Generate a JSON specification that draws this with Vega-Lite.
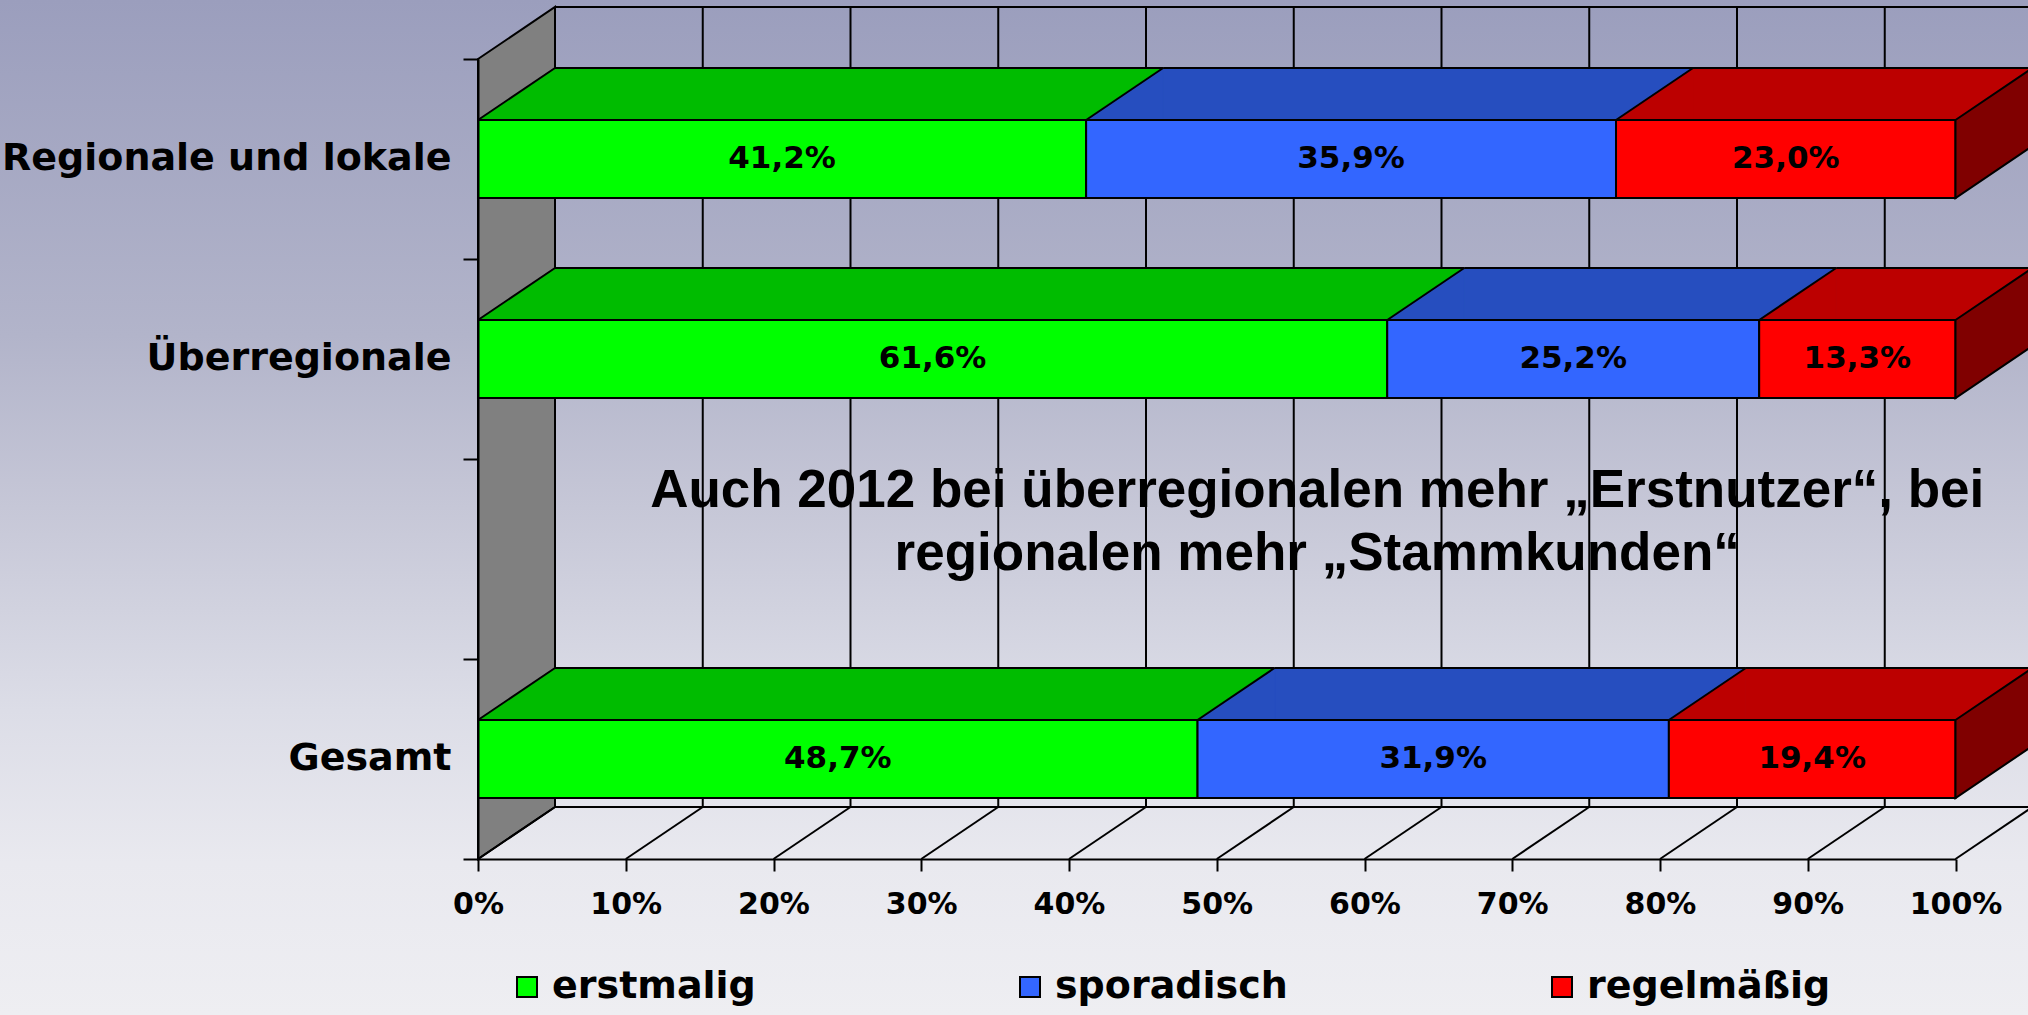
{
  "$schema": "https://vega.github.io/schema/vega-lite/v6.json",
  "width": 2028,
  "height": 1015,
  "autosize": {"type": "none"},
  "padding": 0,
  "background": "#d0d1de",
  "config": {
    "view": {
      "stroke": null,
      "fill": {
        "gradient": "linear", "x1": 0, "y1": 0, "x2": 0, "y2": 1,
        "stops": [
          {"offset": 0, "color": "#9b9ebd"},
          {"offset": 0.33, "color": "#b2b4ca"},
          {"offset": 0.5, "color": "#c6c7d7"},
          {"offset": 0.7, "color": "#dcdde7"},
          {"offset": 0.85, "color": "#e9e9ef"},
          {"offset": 1, "color": "#eeeef2"}
        ]
      }
    },
    "locale": {"number": {"decimal": ",", "thousands": ".", "grouping": [3], "currency": ["", "%"]}},
    "axis": {"grid": false}
  },
  "datasets": {
    "werte": [
      {"kat": "Regionale und lokale", "typ": "erstmalig", "wert": 41.2},
      {"kat": "Regionale und lokale", "typ": "sporadisch", "wert": 35.9},
      {"kat": "Regionale und lokale", "typ": "regelmäßig", "wert": 23.0},
      {"kat": "Überregionale", "typ": "erstmalig", "wert": 61.6},
      {"kat": "Überregionale", "typ": "sporadisch", "wert": 25.2},
      {"kat": "Überregionale", "typ": "regelmäßig", "wert": 13.3},
      {"kat": "Gesamt", "typ": "erstmalig", "wert": 48.7},
      {"kat": "Gesamt", "typ": "sporadisch", "wert": 31.9},
      {"kat": "Gesamt", "typ": "regelmäßig", "wert": 19.4}
    ],
    "ticks": [
      {"t": 0}, {"t": 0.1}, {"t": 0.2}, {"t": 0.3}, {"t": 0.4}, {"t": 0.5},
      {"t": 0.6}, {"t": 0.7}, {"t": 0.8}, {"t": 0.9}, {"t": 1}
    ],
    "eins": [{"n": 1}]
  },
  "data": {"name": "werte"},
  "transform": [
    {"window": [{"op": "row_number", "as": "i"}], "groupby": ["kat"]},
    {"stack": "wert", "groupby": ["kat"], "sort": [{"field": "i", "order": "ascending"}], "offset": "normalize", "as": ["x0", "x1"]}
  ],
  "layer": [
    {
      "data": {"name": "ticks"},
      "mark": {"type": "rule", "color": "black", "strokeWidth": 2, "xOffset": 77, "yOffset": -152, "y2Offset": 48},
      "encoding": {
        "x": {"field": "t", "type": "quantitative"},
        "y": {"datum": "Regionale und lokale"},
        "y2": {"datum": "Gesamt"}
      }
    },
    {
      "data": {"name": "eins"},
      "mark": {"type": "rule", "color": "black", "strokeWidth": 2, "xOffset": 77, "x2Offset": 77, "yOffset": -152},
      "encoding": {
        "x": {"datum": 0, "type": "quantitative"},
        "x2": {"datum": 1},
        "y": {"datum": "Regionale und lokale"}
      }
    },
    {
      "data": {"name": "eins"},
      "mark": {"type": "rule", "color": "black", "strokeWidth": 2, "xOffset": 77, "x2Offset": 77, "yOffset": 48},
      "encoding": {
        "x": {"datum": 0, "type": "quantitative"},
        "x2": {"datum": 1},
        "y": {"datum": "Gesamt"}
      }
    },
    {
      "data": {"name": "eins"},
      "mark": {"type": "point", "shape": "M0,-100L77,-152L77,648L0,700Z", "size": 4, "filled": true, "fill": "#808080", "stroke": "black", "strokeWidth": 2, "opacity": 1},
      "encoding": {
        "x": {"datum": 0, "type": "quantitative"},
        "y": {"datum": "Regionale und lokale"}
      }
    },
    {
      "data": {"name": "ticks"},
      "mark": {"type": "point", "shape": "M0,100L77,48", "size": 4, "filled": false, "fill": null, "stroke": "black", "strokeWidth": 2, "opacity": 1},
      "encoding": {
        "x": {"field": "t", "type": "quantitative"},
        "y": {"datum": "Gesamt"}
      }
    },
    {
      "mark": {"type": "bar", "height": 52, "yOffset": -65, "xOffset": 77, "x2Offset": 77, "strokeWidth": 1},
      "encoding": {
        "x": {"field": "x0", "type": "quantitative"},
        "x2": {"field": "x1"},
        "y": {"field": "kat", "type": "nominal"},
        "fill": {"field": "typ", "type": "nominal", "scale": {"domain": ["erstmalig", "sporadisch", "regelmäßig"], "range": ["#00bc00", "#264ebf", "#bc0000"]}, "legend": null},
        "stroke": {"field": "typ", "type": "nominal", "scale": {"domain": ["erstmalig", "sporadisch", "regelmäßig"], "range": ["#00bc00", "#264ebf", "#bc0000"]}, "legend": null}
      }
    },
    {
      "mark": {"type": "point", "shape": "M0,-39L77,-39L77,-91Z", "size": 4, "filled": true, "strokeWidth": 1, "opacity": 1},
      "encoding": {
        "x": {"field": "x0", "type": "quantitative"},
        "y": {"field": "kat", "type": "nominal"},
        "fill": {"field": "typ", "type": "nominal", "scale": {"domain": ["erstmalig", "sporadisch", "regelmäßig"], "range": ["#00bc00", "#264ebf", "#bc0000"]}, "legend": null},
        "stroke": {"field": "typ", "type": "nominal", "scale": {"domain": ["erstmalig", "sporadisch", "regelmäßig"], "range": ["#00bc00", "#264ebf", "#bc0000"]}, "legend": null}
      }
    },
    {
      "mark": {"type": "rule", "color": "black", "strokeWidth": 2, "xOffset": 77, "x2Offset": 77, "yOffset": -91},
      "encoding": {
        "x": {"field": "x0", "type": "quantitative"},
        "x2": {"field": "x1"},
        "y": {"field": "kat", "type": "nominal"}
      }
    },
    {
      "mark": {"type": "point", "shape": "M0,-39L77,-91", "size": 4, "filled": false, "fill": null, "stroke": "black", "strokeWidth": 2, "opacity": 1},
      "encoding": {
        "x": {"field": "x0", "type": "quantitative"},
        "y": {"field": "kat", "type": "nominal"}
      }
    },
    {
      "mark": {"type": "bar", "height": 78, "stroke": "black", "strokeWidth": 2},
      "encoding": {
        "x": {
          "field": "x0", "type": "quantitative",
          "scale": {"domain": [0, 1], "range": [478, 1955.5], "nice": false, "zero": false},
          "axis": {
            "values": [0, 0.1, 0.2, 0.3, 0.4, 0.5, 0.6, 0.7, 0.8, 0.9, 1],
            "format": ".0%", "title": null, "grid": false, "zindex": 1,
            "offset": -156,
            "domainColor": "black", "domainWidth": 2,
            "tickColor": "black", "tickWidth": 2, "tickSize": 12,
            "labelFont": "DejaVu Sans", "labelFontWeight": "bold", "labelFontSize": 30,
            "labelColor": "black", "labelPadding": 18, "labelFlush": false, "labelOverlap": false
          }
        },
        "x2": {"field": "x1"},
        "y": {
          "field": "kat", "type": "nominal",
          "scale": {"type": "band", "domain": ["Regionale und lokale", "Überregionale", " ", "Gesamt"], "range": [59, 859], "paddingInner": 0, "paddingOuter": 0},
          "axis": {
            "title": null, "grid": false, "zindex": 1,
            "offset": -478,
            "bandPosition": 1, "tickExtra": true, "labelOffset": 0,
            "domainColor": "black", "domainWidth": 2,
            "tickColor": "black", "tickWidth": 2, "tickSize": 15,
            "labelFont": "DejaVu Sans", "labelFontWeight": "bold", "labelFontSize": 38,
            "labelColor": "black", "labelPadding": 12, "labelLimit": 1000
          }
        },
        "fill": {
          "field": "typ", "type": "nominal",
          "scale": {"domain": ["erstmalig", "sporadisch", "regelmäßig"], "range": ["#00ff00", "#3366ff", "#ff0000"]},
          "legend": {
            "orient": "none", "legendX": 508, "legendY": 968, "direction": "horizontal",
            "title": null, "symbolType": "square", "symbolSize": 400,
            "symbolStrokeColor": "black", "symbolStrokeWidth": 2, "symbolOpacity": 1,
            "labelFont": "DejaVu Sans", "labelFontWeight": "bold", "labelFontSize": 38,
            "labelColor": "black", "labelOffset": 6, "columnPadding": 255, "padding": 0, "labelLimit": 600
          }
        }
      }
    },
    {
      "transform": [{"filter": "datum.typ === 'regelmäßig'"}],
      "mark": {"type": "point", "shape": "M0,-39L77,-91L77,-13L0,39Z", "size": 4, "filled": true, "fill": "#800000", "stroke": "black", "strokeWidth": 2, "opacity": 1},
      "encoding": {
        "x": {"field": "x1", "type": "quantitative"},
        "y": {"field": "kat", "type": "nominal"}
      }
    },
    {
      "mark": {"type": "text", "font": "DejaVu Sans", "fontWeight": "bold", "fontSize": 31, "color": "black", "align": "center", "baseline": "middle"},
      "encoding": {
        "x": {"field": "wert", "type": "quantitative", "stack": "normalize", "bandPosition": 0.5},
        "y": {"field": "kat", "type": "nominal"},
        "detail": {"field": "typ"},
        "order": {"field": "i", "type": "quantitative"},
        "text": {"field": "wert", "type": "quantitative", "format": "$.1f"}
      }
    },
    {
      "data": {"name": "eins"},
      "mark": {
        "type": "text", "font": "Liberation Sans", "fontWeight": "bold", "fontSize": 53, "color": "black",
        "align": "center", "baseline": "alphabetic", "dy": -52, "lineHeight": 63,
        "text": ["Auch 2012 bei überregionalen mehr „Erstnutzer“, bei", "regionalen mehr „Stammkunden“"]
      },
      "encoding": {
        "x": {"datum": 0.568, "type": "quantitative"},
        "y": {"datum": " "}
      }
    }
  ],
  "resolve": {"scale": {"fill": "independent", "stroke": "independent"}}
}
